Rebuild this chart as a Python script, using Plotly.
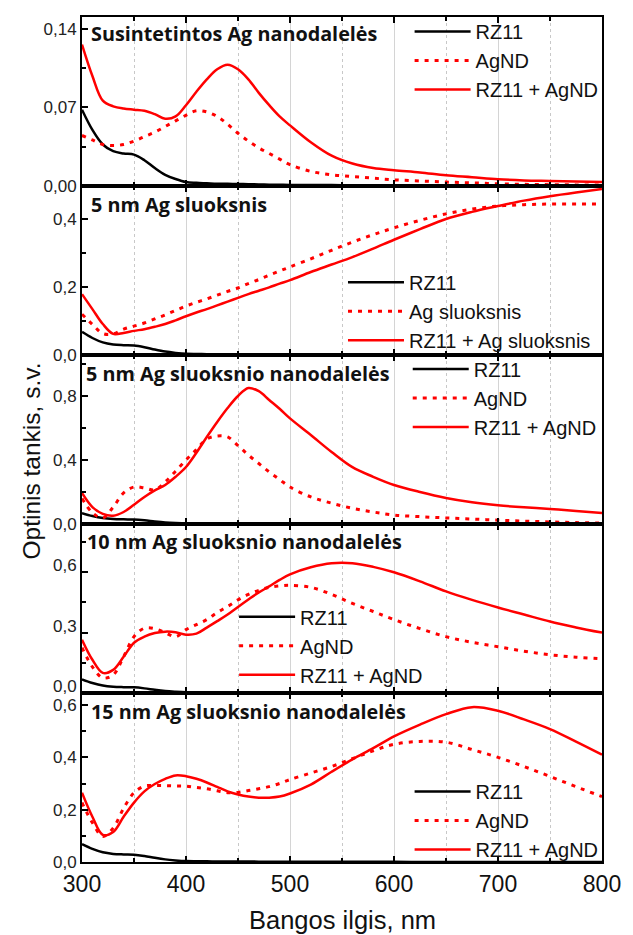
import plotly.graph_objects as go
from plotly.subplots import make_subplots

# Wavelength grid, nm
wavelength = [300, 310, 320, 330, 340, 350, 360, 370, 380, 390, 400, 410, 420, 430,
              440, 450, 460, 470, 480, 490, 500, 520, 540, 560, 580, 600, 625, 650,
              675, 700, 725, 750, 775, 800]

# RZ11 dye alone (same spectrum in every panel)
rz11 = [0.068, 0.050, 0.037, 0.031, 0.029, 0.028, 0.023, 0.016, 0.010, 0.0062, 0.0035,
        0.0028, 0.0024, 0.0020, 0.0019, 0.0018, 0.0016, 0.0014, 0.0012, 0.0011, 0.0010,
        0.0009, 0.0008, 0.0007, 0.0006, 0.0005, 0.0004, 0.0004, 0.0003, 0.0003, 0.0002,
        0.0002, 0.0001, 0.0001]

# Synthesised Ag nanoparticles
ag_synth = [0.045, 0.041, 0.037, 0.036, 0.037, 0.040, 0.044, 0.048, 0.053, 0.058, 0.063,
            0.067, 0.066, 0.062, 0.055, 0.047, 0.040, 0.034, 0.029, 0.024, 0.019, 0.013,
            0.010, 0.0085, 0.007, 0.0055, 0.0045, 0.0035, 0.0028, 0.002, 0.0015, 0.0012,
            0.001, 0.0009]
mix_synth = [0.126, 0.098, 0.076, 0.071, 0.069, 0.068, 0.067, 0.064, 0.060, 0.062, 0.072,
             0.084, 0.095, 0.104, 0.108, 0.104, 0.095, 0.083, 0.072, 0.062, 0.054, 0.039,
             0.027, 0.020, 0.016, 0.014, 0.012, 0.0095, 0.0078, 0.006, 0.005, 0.0045,
             0.004, 0.0035]

# 5 nm continuous Ag film
ag_film5 = [0.120, 0.090, 0.063, 0.062, 0.076, 0.085, 0.094, 0.106, 0.118, 0.131, 0.144,
            0.155, 0.165, 0.176, 0.187, 0.197, 0.210, 0.222, 0.235, 0.247, 0.259, 0.283,
            0.308, 0.332, 0.354, 0.374, 0.396, 0.415, 0.429, 0.438, 0.442, 0.444, 0.444,
            0.444]
mix_film5 = [0.179, 0.135, 0.091, 0.062, 0.065, 0.071, 0.076, 0.083, 0.091, 0.102, 0.114,
             0.125, 0.135, 0.146, 0.157, 0.168, 0.179, 0.189, 0.199, 0.210, 0.220, 0.244,
             0.266, 0.288, 0.313, 0.339, 0.370, 0.400, 0.421, 0.438, 0.454, 0.467, 0.478,
             0.488]

# Nanoparticles from 5 nm film
ag_np5 = [0.160, 0.070, 0.038, 0.106, 0.194, 0.231, 0.225, 0.213, 0.263, 0.330, 0.400,
          0.465, 0.531, 0.550, 0.544, 0.490, 0.431, 0.378, 0.325, 0.278, 0.231, 0.169,
          0.130, 0.098, 0.075, 0.056, 0.046, 0.038, 0.031, 0.024, 0.018, 0.013, 0.009,
          0.006]
mix_np5 = [0.194, 0.106, 0.063, 0.052, 0.075, 0.120, 0.169, 0.210, 0.244, 0.295, 0.356,
           0.445, 0.544, 0.638, 0.725, 0.800, 0.850, 0.830, 0.775, 0.720, 0.660, 0.556,
           0.450, 0.355, 0.295, 0.244, 0.200, 0.163, 0.136, 0.117, 0.104, 0.094, 0.082,
           0.069]

# Nanoparticles from 10 nm film
ag_np10 = [0.225, 0.130, 0.075, 0.090, 0.180, 0.280, 0.322, 0.320, 0.300, 0.280, 0.315,
           0.340, 0.365, 0.400, 0.430, 0.463, 0.490, 0.510, 0.525, 0.532, 0.535, 0.525,
           0.490, 0.445, 0.405, 0.365, 0.320, 0.280, 0.252, 0.230, 0.208, 0.190, 0.178,
           0.170]
mix_np10 = [0.265, 0.165, 0.100, 0.115, 0.180, 0.250, 0.280, 0.298, 0.305, 0.302, 0.290,
            0.295, 0.325, 0.357, 0.390, 0.428, 0.465, 0.500, 0.530, 0.562, 0.590, 0.625,
            0.645, 0.645, 0.627, 0.600, 0.555, 0.505, 0.463, 0.425, 0.390, 0.355, 0.326,
            0.300]

# Nanoparticles from 15 nm film
ag_np15 = [0.227, 0.150, 0.098, 0.130, 0.205, 0.265, 0.290, 0.292, 0.292, 0.291, 0.290,
           0.285, 0.280, 0.272, 0.265, 0.266, 0.273, 0.280, 0.288, 0.300, 0.315, 0.340,
           0.365, 0.395, 0.425, 0.450, 0.461, 0.458, 0.430, 0.400, 0.365, 0.327, 0.288,
           0.250]
mix_np15 = [0.265, 0.173, 0.104, 0.115, 0.173, 0.227, 0.270, 0.298, 0.318, 0.331, 0.328,
            0.318, 0.304, 0.287, 0.270, 0.258, 0.250, 0.246, 0.246, 0.250, 0.262, 0.296,
            0.345, 0.392, 0.435, 0.480, 0.525, 0.565, 0.592, 0.578, 0.545, 0.508, 0.460,
            0.410]

panel_titles = ["Susintetintos Ag nanodalelės", "5 nm Ag sluoksnis",
                "5 nm Ag sluoksnio nanodalelės", "10 nm Ag sluoksnio nanodalelės",
                "15 nm Ag sluoksnio nanodalelės"]
ag_labels = ["AgND", "Ag sluoksnis", "AgND", "AgND", "AgND"]
mix_labels = ["RZ11 + AgND", "RZ11 + Ag sluoksnis", "RZ11 + AgND", "RZ11 + AgND",
              "RZ11 + AgND"]
ag_series = [ag_synth, ag_film5, ag_np5, ag_np10, ag_np15]
mix_series = [mix_synth, mix_film5, mix_np5, mix_np10, mix_np15]

# Axis styling per panel: (y max, major step, minor step, tick format, label shift px)
y_axes = [(0.1506, 0.07, 0.035, ".2f", 0), (0.497, 0.2, 0.1, ".1f", 0),
          (1.056, 0.4, 0.2, ".1f", 0), (0.84, 0.3, 0.15, ".1f", -7),
          (0.646, 0.2, 0.1, ".1f", 0)]
# Legend anchor (paper x, paper y) and title anchor (x domain, y domain)
legend_pos = [(0.630, 1.0059), (0.5019, 0.7092), (0.6264, 0.6064), (0.2925, 0.3132),
              (0.630, 0.1064)]
title_pos = [(0.0132, 0.905), (0.0132, 0.888), (0.0038, 0.888), (0.0057, 0.894),
             (0.0132, 0.888)]

RED = "#ff0000"
AXIS_FONT = "Liberation Sans, Arial"
fig = make_subplots(rows=5, cols=1, shared_xaxes=True, vertical_spacing=0)

for i in range(5):
    row = i + 1
    leg = "legend" if i == 0 else f"legend{row}"
    fig.add_trace(go.Scatter(x=wavelength, y=rz11, name="RZ11", mode="lines",
                             line=dict(color="black", width=2.5, shape="spline"),
                             legend=leg), row=row, col=1)
    fig.add_trace(go.Scatter(x=wavelength, y=ag_series[i], name=ag_labels[i], mode="lines",
                             line=dict(color=RED, width=3, dash="4px,6px", shape="spline"),
                             legend=leg), row=row, col=1)
    fig.add_trace(go.Scatter(x=wavelength, y=mix_series[i], name=mix_labels[i], mode="lines",
                             line=dict(color=RED, width=2.5, shape="spline"),
                             legend=leg), row=row, col=1)

    ymax, major, minor, fmt, shift = y_axes[i]
    fig.update_yaxes(row=row, col=1, range=[0, ymax], tick0=0, dtick=major,
                     tickformat=fmt, ticks="inside", ticklen=6, tickwidth=1.5,
                     tickcolor="black", showline=True, linewidth=2, linecolor="black",
                     mirror=True, showgrid=False, zeroline=False, ticklabelshift=shift,
                     tickfont=dict(family=AXIS_FONT, size=17, color="#222"),
                     minor=dict(dtick=minor, tick0=0, ticks="inside", ticklen=4,
                                tickcolor="black", showgrid=False))
    fig.update_xaxes(row=row, col=1, range=[300, 800], tick0=300, dtick=100,
                     ticks="inside", ticklen=6, tickwidth=1.5, tickcolor="black",
                     showline=True, linewidth=2, linecolor="black", mirror="allticks",
                     showgrid=True, gridcolor="#d4d4d4", gridwidth=1.2, zeroline=False,
                     showticklabels=(row == 5),
                     tickfont=dict(family=AXIS_FONT, size=23, color="#111"),
                     minor=dict(dtick=50, tick0=300, ticks="inside", ticklen=4,
                                tickcolor="black", showgrid=True, gridcolor="#c8c8c8",
                                griddash="dot", gridwidth=1))

    lx, ly = legend_pos[i]
    fig.update_layout({leg: dict(x=lx, y=ly, xanchor="left", yanchor="top",
                                 bgcolor="rgba(0,0,0,0)", borderwidth=0, itemwidth=56,
                                 tracegroupgap=0,
                                 font=dict(family=AXIS_FONT, size=20, color="#111"))})

    tx, ty = title_pos[i]
    xref = "x domain" if row == 1 else f"x{row} domain"
    yref = "y domain" if row == 1 else f"y{row} domain"
    fig.add_annotation(text=f"<b>{panel_titles[i]}</b>", x=tx, y=ty, xref=xref, yref=yref,
                       xanchor="left", yanchor="middle", showarrow=False,
                       font=dict(family="Open Sans", size=19.8, color="#111"))

fig.add_annotation(text="Optinis tankis, s.v.", x=-0.098, y=0.474, xref="paper",
                   yref="paper", textangle=-90, showarrow=False, xanchor="center",
                   yanchor="middle", font=dict(family=AXIS_FONT, size=24.5, color="#111"))
fig.add_annotation(text="Bangos ilgis, nm", x=0.5, y=-0.0686, xref="paper", yref="paper",
                   showarrow=False, xanchor="center", yanchor="middle",
                   font=dict(family=AXIS_FONT, size=25.5, color="#111"))

fig.update_layout(width=633, height=935, margin=dict(l=82, r=21, t=16, b=73),
                  paper_bgcolor="white", plot_bgcolor="white", separators=", ",
                  showlegend=True)

fig.write_html("out.html")
